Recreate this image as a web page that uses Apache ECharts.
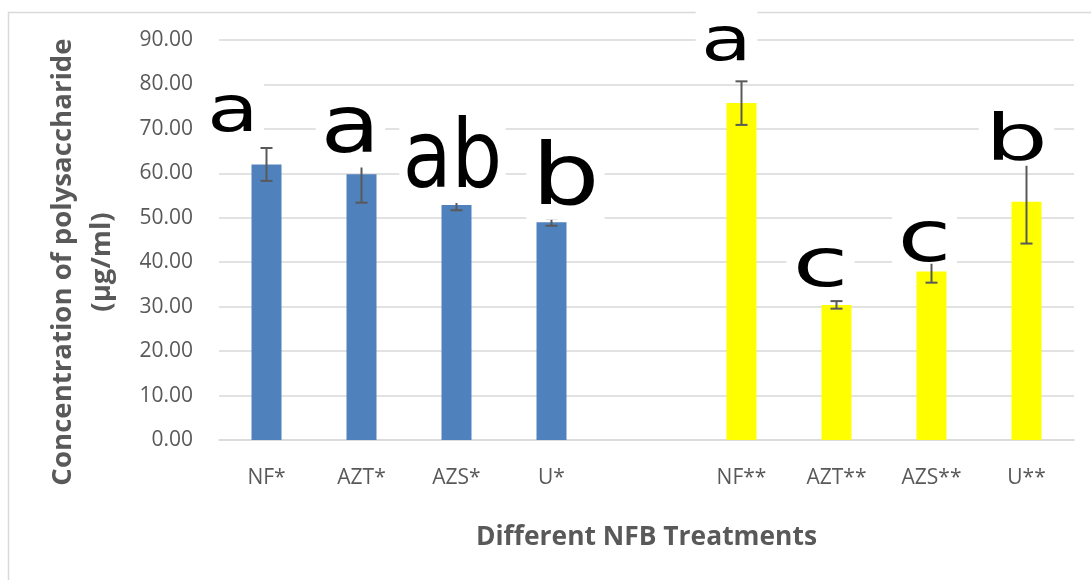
<!DOCTYPE html>
<html>
<head>
<meta charset="utf-8">
<script src="https://cdn.jsdelivr.net/npm/echarts@6/dist/echarts.min.js"></script>
<style>
html,body{margin:0;padding:0;background:#fff;}
#c{width:1091px;height:580px;}
</style>
</head>
<body>
<div id="c"></div>
<script>
// ---- data ----
const categories = ['NF*', 'AZT*', 'AZS*', 'U*', '', 'NF**', 'AZT**', 'AZS**', 'U**'];
const means  = [62.0, 59.8, 52.9, 49.0, null, 75.8, 30.4, 37.9, 53.6];
const errors = [3.7, 6.4, 1.2, 0.8, null, 4.9, 0.85, 2.5, 9.4];
const letters = ['a', 'a', 'ab', 'b', '', 'a', 'c', 'c', 'b'];
const groupOf = [0, 0, 0, 0, null, 1, 1, 1, 1];
const yAxisTitle = 'Concentration of polysaccharide\n(µg/ml)';
const xAxisTitle = 'Different NFB Treatments';

// ---- styling / layout (not data) ----
const groupColors = ['#4F81BD', '#FFFF00'];
const letterLayout = [
  {dx: -33.5, dy: -15,   fs: 64, sx: 1.32, pb: 10},
  {dx: -11,   dy: 9,     fs: 80, sx: 1.22, pb: 12},
  {dx: -4,    dy: -9.6,  fs: 95, sx: 0.84, pb: 12},
  {dx: 14,    dy: -11.7, fs: 86, sx: 1.25, pb: 12},
  null,
  {dx: -15,   dy: -19.3, fs: 61, sx: 1.36, pb: 10},
  {dx: -16,   dy: -13,   fs: 68, sx: 1.5,  pb: 9},
  {dx: -7,    dy: 2.6,   fs: 71, sx: 1.38, pb: 0},
  {dx: -10,   dy: 2,     fs: 64, sx: 1.55, pb: 3}
];
const gray = '#595959';
const gridGray = '#d9d9d9';

const barData = means.map((m, i) => m == null ? '-' : {
  value: m, itemStyle: {color: groupColors[groupOf[i]]}
});
const errData = [];
const letterData = [];
means.forEach((m, i) => {
  if (m == null) return;
  errData.push([i, m - errors[i], m + errors[i]]);
  letterData.push([i, m + errors[i]]);
});

const chart = echarts.init(document.getElementById('c'), null, {renderer: 'canvas'});
chart.setOption({
  backgroundColor: '#fff',
  animation: false,
  graphic: [
    {
      type: 'rect', shape: {x: 8.5, y: 12.5, width: 1200, height: 700},
      style: {fill: 'none', stroke: gridGray, lineWidth: 1.5}, silent: true, z: -1
    },
    {
      type: 'text', x: 82.5, y: 262, rotation: Math.PI / 2, silent: true,
      style: {
        text: yAxisTitle, fontFamily: 'Open Sans', fontWeight: 'bold',
        fontSize: 27.6, lineHeight: 39, fill: gray,
        align: 'center', verticalAlign: 'middle'
      }
    }
  ],
  grid: {left: 219, right: 17, top: 40, bottom: 140, containLabel: false},
  xAxis: {
    type: 'category',
    data: categories,
    axisLine: {show: true, lineStyle: {color: gridGray, width: 1.5}},
    axisTick: {show: false},
    axisLabel: {
      interval: 0, margin: 28, color: gray,
      fontFamily: 'Open Sans', fontSize: 21, lineHeight: 21
    },
    name: xAxisTitle,
    nameLocation: 'middle',
    nameGap: 79,
    nameTextStyle: {
      fontFamily: 'Open Sans', fontWeight: 'bold', fontSize: 26.4,
      color: gray, lineHeight: 36
    }
  },
  yAxis: {
    type: 'value',
    min: 0, max: 90, interval: 10,
    axisLine: {show: false},
    axisTick: {show: false},
    splitLine: {lineStyle: {color: gridGray, width: 1.5}},
    axisLabel: {
      margin: 26, color: gray, fontFamily: 'Open Sans', fontSize: 21,
      formatter: v => v.toFixed(2)
    }
  },
  series: [
    {
      type: 'bar',
      data: barData,
      barWidth: 30,
      z: 2
    },
    {
      type: 'custom',
      data: errData,
      encode: {x: 0, y: [1, 2]},
      z: 3,
      clip: false,
      renderItem: (params, api) => {
        const lo = api.coord([api.value(0), api.value(1)]);
        const hi = api.coord([api.value(0), api.value(2)]);
        const hw = 6;
        const st = {stroke: gray, lineWidth: 2};
        return {
          type: 'group',
          children: [
            {type: 'line', shape: {x1: lo[0], y1: lo[1], x2: hi[0], y2: hi[1]}, style: st},
            {type: 'line', shape: {x1: lo[0] - hw, y1: lo[1], x2: lo[0] + hw, y2: lo[1]}, style: st},
            {type: 'line', shape: {x1: hi[0] - hw, y1: hi[1], x2: hi[0] + hw, y2: hi[1]}, style: st}
          ]
        };
      }
    },
    {
      type: 'custom',
      data: letterData,
      encode: {x: 0, y: 1},
      z: 4,
      clip: false,
      renderItem: (params, api) => {
        const i = api.value(0);
        const L = letterLayout[i];
        const p = api.coord([i, api.value(1)]);
        const baseline = p[1] + L.dy;
        const y = baseline + L.pb + 0.01 * L.fs;
        return {
          type: 'text',
          x: p[0] + L.dx,
          y: y,
          scaleX: L.sx,
          style: {
            text: letters[i],
            fontFamily: 'DejaVu Sans',
            fontSize: L.fs,
            lineHeight: 0.6 * L.fs,
            fill: '#000',
            align: 'center',
            verticalAlign: 'bottom',
            backgroundColor: '#fff',
            padding: [0.25 * L.fs, 4, L.pb, 4]
          }
        };
      }
    }
  ]
});
</script>
</body>
</html>
